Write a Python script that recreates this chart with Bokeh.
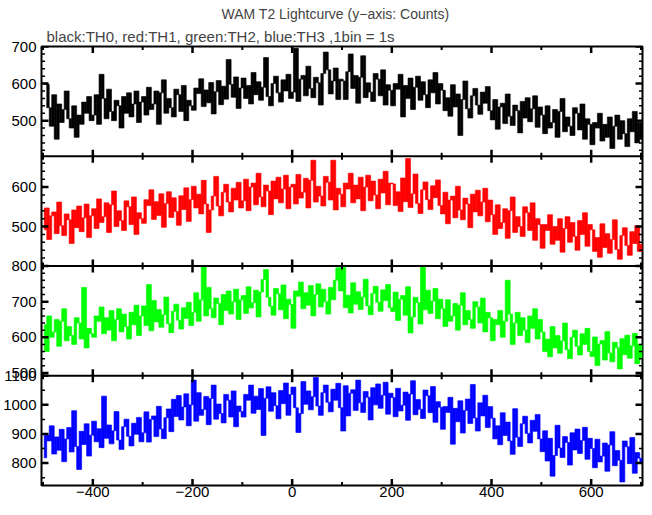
import math
from bokeh.plotting import figure
from bokeh.models import (Range1d, Span, Title, ColumnDataSource, LinearAxis,
                          FixedTicker, CustomJSTickFormatter)
from bokeh.embed import file_html
from bokeh.resources import INLINE

# ---------------- data (1 value per 5 s) ----------------
time_s = list(range(-500, 701, 5))

th0 = [598,598,535,485,570,450,545,495,530,580,505,480,540,455,515,490,550,520,565,500,
       515,570,490,625,560,505,585,525,500,555,540,480,565,520,575,510,545,580,495,550,
       565,515,590,530,545,580,490,575,610,520,560,535,510,585,570,525,595,500,555,540,
       528,588,573,613,538,583,548,603,518,578,608,543,593,558,665,598,563,618,533,588,
       615,560,595,545,630,570,605,555,590,670,565,540,600,620,575,550,610,580,625,560,
       577,695,552,612,622,567,647,587,562,617,602,542,627,685,637,572,607,642,557,612,
       607,557,632,680,587,622,547,617,675,562,602,577,552,627,612,567,637,542,597,582,
       540,600,585,625,510,595,560,615,530,590,620,555,605,570,535,610,575,630,545,600,
       582,527,562,512,597,537,572,460,557,607,532,507,567,587,542,517,577,547,592,527,
       502,557,477,537,547,492,572,512,487,542,527,467,552,507,562,497,532,567,482,537,
       515,465,540,480,495,530,455,525,560,470,510,485,460,535,520,475,545,450,505,490,
       435,495,480,520,445,490,455,510,425,485,515,450,500,465,430,505,470,525,440,495,
       450]

th1 = [492,547,467,527,537,482,562,502,477,532,517,457,542,497,552,487,522,557,472,527,
       545,495,570,510,525,560,485,555,590,500,540,515,490,565,550,505,575,480,535,520,
       508,568,553,593,518,563,528,583,498,558,588,523,573,538,503,578,543,598,513,568,
       602,547,582,532,617,557,485,542,577,627,552,527,587,607,562,537,597,567,612,547,
       565,620,540,600,610,555,635,575,550,605,590,530,615,570,625,560,595,630,545,600,
       607,557,632,572,587,622,547,617,668,562,602,577,552,627,612,567,668,542,597,582,
       550,610,595,635,560,605,570,625,540,600,630,565,615,580,545,620,585,640,555,610,
       608,553,588,538,623,563,672,548,583,633,558,533,593,613,568,543,603,573,618,553,
       532,587,507,567,577,522,602,542,517,572,557,497,582,537,592,527,562,597,512,567,
       530,480,555,495,510,545,470,540,575,485,525,500,475,550,535,490,560,465,520,505,
       445,505,490,530,455,500,465,520,435,495,525,460,510,475,440,515,480,535,450,505,
       492,437,472,422,507,447,482,432,467,517,442,417,477,497,452,427,487,457,502,437,
       455]

th2 = [635,560,660,600,615,650,575,645,680,590,630,605,580,655,640,595,740,570,625,610,
       600,660,645,685,610,655,620,675,590,650,680,615,665,630,595,670,635,690,605,660,
       688,633,748,618,703,643,678,628,663,713,638,613,673,693,648,623,683,653,698,633,
       670,725,645,705,798,660,740,680,655,710,695,635,720,675,730,665,700,735,650,705,
       717,667,742,682,697,732,657,727,762,790,712,687,662,737,722,677,747,652,707,692,
       625,730,715,755,680,725,690,745,660,720,750,685,735,700,665,740,705,760,795,730,
       798,683,718,668,753,693,728,678,713,763,688,663,723,743,698,673,733,703,748,683,
       672,727,647,707,717,662,742,612,657,712,697,637,800,677,732,667,702,737,652,707,
       680,630,705,645,660,695,620,690,725,635,675,650,625,700,685,640,710,615,670,655,
       590,650,635,675,600,645,760,665,580,640,670,605,655,620,585,660,625,680,595,650,
       615,560,595,545,630,570,605,555,590,640,565,540,600,620,575,550,610,580,625,560,
       546,601,521,581,591,536,616,556,531,586,571,511,596,551,606,541,576,611,526,581,
       540]

th3 = [818,896,876,928,831,890,844,916,805,883,922,838,980,857,778,909,864,935,824,896,
       944,873,918,853,1030,885,931,866,911,977,879,847,925,951,892,859,937,899,957,873,
       904,976,872,950,962,891,995,917,884,956,986,908,1019,960,1032,948,993,1038,928,1000,
       1085,944,1042,964,984,1029,932,1022,1068,951,1003,970,938,1036,1016,958,1048,925,996,977,
       958,1036,1016,1068,971,1030,984,1056,895,1023,1062,978,1042,997,952,1049,1004,1075,964,1036,
       1061,990,905,970,1080,1002,1048,983,1028,1094,996,964,1042,1068,1009,976,1054,1016,1074,990,
       910,1066,962,1040,1052,981,1085,1007,974,1046,1026,948,1059,1000,1072,988,1033,1078,968,1040,
       1025,959,1057,979,999,1044,947,1037,1083,966,1018,985,953,1051,1031,973,1063,940,1011,992,
       916,994,974,1026,865,988,942,1014,903,981,1020,936,1070,955,910,1007,962,1033,922,994,
       954,883,928,863,973,895,941,876,830,987,889,857,935,961,902,869,947,909,967,883,
       839,911,807,885,755,826,930,852,819,891,871,793,904,845,917,833,878,923,813,885,
       850,784,882,804,824,869,772,862,908,791,843,810,735,876,856,798,888,765,836,817,
       800]

series = [th0, th1, th2, th3]
colors = ["#000000", "#ff0000", "#00ff00", "#0000ff"]

# axis limits / ticks of each panel (top to bottom)
panel_limits = [(404, 700), (400, 678), (492, 800), (723, 1100)]
y_major = [[500, 600, 700], [500, 600], [500, 600, 700, 800], [800, 900, 1000, 1100]]
y_minor_step = [20, 20, 20, 50]
x_major = [-400, -200, 0, 200, 400, 600]
x_minor = [-500, -300, -100, 100, 300, 500, 700]
X0, X1 = -503, 703
BIN = 5

title_text = "WAM T2 Lightcurve (y\u2212axis: Counts)"
subtitle_text = "black:TH0, red:TH1, green:TH2, blue:TH3 ,1bin = 1s"

FONT = "Liberation Sans"

p = figure(width=644, height=499, x_range=Range1d(X0, X1), y_range=Range1d(0, 4),
           output_backend="svg", toolbar_location=None, y_axis_location=None,
           min_border_left=38, min_border_right=2, min_border_top=0, min_border_bottom=0)
p.grid.visible = False
p.outline_line_color = "black"
p.outline_line_width = 2
p.background_fill_color = "white"
p.border_fill_color = "white"

p.add_layout(Title(text=subtitle_text, align="left", offset=5, standoff=3,
                   text_font=FONT, text_font_size="15px", text_font_style="normal"), "above")
p.add_layout(Title(text=title_text, align="left", offset=180, standoff=6,
                   text_font=FONT, text_font_size="14px", text_font_style="normal"), "above")

# x axis: labels only (ticks drawn as markers on every panel edge)
ax = p.xaxis[0]
ax.ticker = FixedTicker(ticks=x_major)
ax.formatter = CustomJSTickFormatter(code="return tick < 0 ? '\\u2212' + Math.abs(tick) : String(tick);")
ax.major_tick_in = 0
ax.major_tick_out = 0
ax.minor_tick_in = 0
ax.minor_tick_out = 0
ax.axis_line_color = None
ax.major_label_standoff = 1
ax.major_label_text_font = FONT
ax.major_label_text_font_size = "15px"
ax.major_label_text_color = "black"

for k, (lo, hi) in enumerate(panel_limits):
    span = hi - lo
    p.extra_y_ranges[f"p{k}"] = Range1d(lo - (3 - k) * span, hi + k * span)

# panel separators
for b in (1, 2, 3):
    p.add_layout(Span(location=b, dimension="width", line_color="black", line_width=2))

# data: histogram lightcurve; each bin edge drawn as the vertical jump of the step
for k, (vals, col) in enumerate(zip(series, colors)):
    src = ColumnDataSource(dict(
        t=time_s[1:],
        lo=[min(a, b) for a, b in zip(vals[:-1], vals[1:])],
        hi=[max(a, b) for a, b in zip(vals[:-1], vals[1:])],
    ))
    p.vbar(x="t", width=BIN, bottom="lo", top="hi", source=src, fill_color=col,
           line_color=col, line_width=0.6, y_range_name=f"p{k}")

# x ticks on each panel edge
edges = [0, 1, 2, 3, 4]
p.scatter(x=[x for _ in edges for x in x_major], y=[e for e in edges for _ in x_major],
          marker="dash", angle=math.pi / 2, size=13, line_width=2.5, line_color="black")
p.scatter(x=[x for _ in edges for x in x_minor], y=[e for e in edges for _ in x_minor],
          marker="dash", angle=math.pi / 2, size=7, line_width=2, line_color="black")

# y ticks of each panel
label_pos, label_txt = [], []
for k, (lo, hi) in enumerate(panel_limits):
    majors = y_major[k]
    st = y_minor_step[k]
    minors = [v for v in range((lo // st + 1) * st, hi + 1, st) if v not in majors]
    p.scatter(x=[X0] * len(majors) + [X1] * len(majors), y=majors * 2, marker="dash",
              size=14, line_width=2.5, line_color="black", y_range_name=f"p{k}")
    p.scatter(x=[X0] * len(minors) + [X1] * len(minors), y=minors * 2, marker="dash",
              size=7, line_width=1.5, line_color="black", y_range_name=f"p{k}")
    for m in majors:
        label_pos.append((3 - k) + (m - lo) / (hi - lo))
        label_txt.append(str(m))

# y labels: one left axis on the stacked frame, labelled with each panel's values
yax = LinearAxis(ticker=FixedTicker(ticks=label_pos, minor_ticks=[]),
                 formatter=CustomJSTickFormatter(args=dict(pos=label_pos, labs=label_txt), code="""
    let best = 0, d = 1e9;
    for (let i = 0; i < pos.length; i++) {
        const e = Math.abs(pos[i] - tick);
        if (e < d) { d = e; best = i; }
    }
    return labs[best];
"""))
yax.major_tick_in = 0
yax.major_tick_out = 0
yax.minor_tick_in = 0
yax.minor_tick_out = 0
yax.axis_line_color = None
yax.major_label_standoff = 5
yax.major_label_text_font = FONT
yax.major_label_text_font_size = "15px"
yax.major_label_text_color = "black"
yax.major_label_orientation = "horizontal"
p.add_layout(yax, "left")

open("out.html", "w").write(file_html(p, INLINE))
